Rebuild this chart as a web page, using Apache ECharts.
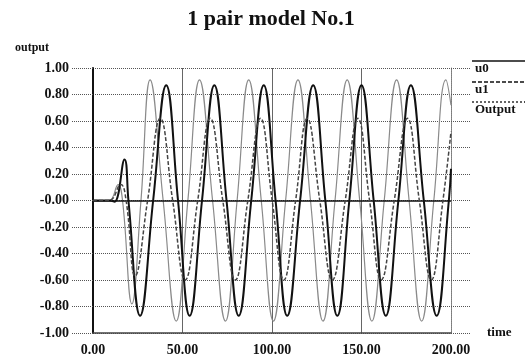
<!DOCTYPE html>
<html>
<head>
<meta charset="utf-8">
<script src="https://cdn.jsdelivr.net/npm/echarts@6/dist/echarts.min.js"></script>
<style>
  html, body { margin: 0; padding: 0; background: #fff; }
  #chart { width: 525px; height: 360px; }
</style>
</head>
<body>
<div id="chart"></div>
<script>
// values: turning points and zero crossings
const u0T = [0, 9, 14, 16.5, 21.7, 26.8, 31.9, 39.2, 46.5, 53, 59.5, 66.8, 74, 80.5, 87, 94, 100.8, 107.6, 114.5, 121.5, 128.5, 135.2, 142, 149, 155.8, 162.7, 169.6, 176.6, 183.6, 190.4, 197.2, 200]
const u0V = [0, 0, 0.12, 0, -0.78, 0, 0.91, 0, -0.91, 0, 0.91, 0, -0.91, 0, 0.91, 0, -0.91, 0, 0.91, 0, -0.91, 0, 0.91, 0, -0.91, 0, 0.91, 0, -0.91, 0, 0.91, 0.72]

const u1T = [0, 9.5, 12, 17.6, 19.8, 26.3, 33.6, 40.9, 47.5, 54, 60.9, 67.8, 74.6, 81.4, 88.4, 95.4, 102, 108.5, 115.7, 123, 129.8, 136.5, 143.2, 150, 156.8, 163.6, 170.6, 177.6, 184.8, 192, 198.8, 200]
const u1V = [0, 0, -0.01, 0.31, 0, -0.87, 0, 0.87, 0, -0.87, 0, 0.87, 0, -0.87, 0, 0.87, 0, -0.87, 0, 0.87, 0, -0.87, 0, 0.87, 0, -0.87, 0, 0.87, 0, -0.87, 0, 0.24]

const outT = [0, 9, 15.5, 18.5, 23.5, 30.5, 37.6, 44.5, 51.5, 58.5, 65.5, 72.5, 79.5, 86.5, 93.6, 100.1, 106.6, 113.2, 119.7, 126.7, 133.7, 140.9, 148, 154.5, 161, 168.3, 175.7, 182.3, 189, 195.5, 200]
const outV = [0, 0, 0.12, 0, -0.57, 0, 0.62, 0, -0.6, 0, 0.62, 0, -0.6, 0, 0.62, 0, -0.6, 0, 0.62, 0, -0.6, 0, 0.62, 0, -0.6, 0, 0.62, 0, -0.6, 0, 0.52]

const seriesNames = ['u0', 'u1', 'Output']

const pairs = (ts, vs) => ts.map((t, i) => [t, vs[i]])

const serif = 'Liberation Serif'
const chart = echarts.init(document.getElementById('chart'))

// legend drawn by hand: a rule over each name, like the scanned original
const legendItem = (i, y, label, dash) => [
  {
    type: 'line',
    id: 'lgLine' + i,
    shape: { x1: 472, y1: y, x2: 525, y2: y },
    style: { stroke: '#111', lineWidth: 1.3, lineDash: dash }
  },
  {
    type: 'text',
    id: 'lgText' + i,
    left: 475,
    top: y + 1,
    style: {
      text: label,
      font: 'bold 13px ' + serif,
      fill: '#111'
    }
  }
]

chart.setOption({
  animation: false,
  backgroundColor: '#fff',
  title: {
    text: '1 pair model No.1',
    left: 266,
    textAlign: 'center',
    top: 3,
    textStyle: { fontFamily: serif, fontWeight: 'bold', fontSize: 22, color: '#111' }
  },
  grid: { left: 93, right: 74, top: 68, bottom: 27 },
  xAxis: {
    type: 'value',
    min: 0,
    max: 200,
    interval: 50,
    name: 'time',
    nameLocation: 'end',
    nameGap: 36,
    nameTextStyle: { fontFamily: serif, fontWeight: 'bold', fontSize: 13, color: '#111' },
    axisLine: { show: true, onZero: false, lineStyle: { color: '#444', width: 1.5 } },
    axisTick: { show: false },
    axisLabel: {
      margin: 10,
      formatter: v => v.toFixed(2),
      fontFamily: serif,
      fontWeight: 'bold',
      fontSize: 14,
      color: '#111'
    },
    splitLine: { show: true, lineStyle: { color: '#666', width: 1 } }
  },
  yAxis: [
    {
      type: 'value',
      min: -1,
      max: 1,
      interval: 0.2,
      name: 'output',
      nameLocation: 'end',
      nameGap: 14,
      nameTextStyle: {
        fontFamily: serif, fontWeight: 'bold', fontSize: 12, color: '#111',
        align: 'right', padding: [0, 44, 0, 0]
      },
      axisLine: { show: true, lineStyle: { color: '#111', width: 2 } },
      axisTick: { show: true, length: 22, lineStyle: { color: '#555', type: 'dotted' } },
      axisLabel: {
        margin: 24,
        formatter: v => (Math.abs(v) < 1e-9 ? '-0.00' : v.toFixed(2)),
        fontFamily: serif,
        fontWeight: 'bold',
        fontSize: 14,
        color: '#111'
      },
      splitLine: { show: true, lineStyle: { color: '#555', type: 'dotted' } }
    },
    {
      type: 'value',
      min: -1,
      max: 1,
      interval: 0.2,
      position: 'right',
      axisLine: { show: true, lineStyle: { color: '#888', width: 1, type: 'dotted' } },
      axisTick: { show: true, length: 20, lineStyle: { color: '#555', type: 'dotted' } },
      axisLabel: { show: false },
      splitLine: { show: false }
    }
  ],
  series: [
    {
      name: seriesNames[0],
      type: 'line',
      data: pairs(u0T, u0V),
      smooth: 0.45,
      showSymbol: false,
      lineStyle: { color: '#8a8a8a', width: 1.2 },
      z: 3
    },
    {
      name: seriesNames[1],
      type: 'line',
      data: pairs(u1T, u1V),
      smooth: 0.45,
      showSymbol: false,
      lineStyle: { color: '#111', width: 2 },
      z: 4,
      markLine: {
        silent: true,
        symbol: 'none',
        label: { show: false },
        lineStyle: { color: '#111', width: 1.5, type: 'solid' },
        data: [{ yAxis: 0 }]
      }
    },
    {
      name: seriesNames[2],
      type: 'line',
      data: pairs(outT, outV),
      smooth: 0.45,
      showSymbol: false,
      lineStyle: { color: '#444', width: 1.5, type: [4, 2] },
      z: 5
    }
  ],
  graphic: [
    ...legendItem(0, 61, seriesNames[0], null),
    ...legendItem(1, 82, seriesNames[1], [4, 2]),
    ...legendItem(2, 102, seriesNames[2], [2, 2])
  ]
})
</script>
</body>
</html>
